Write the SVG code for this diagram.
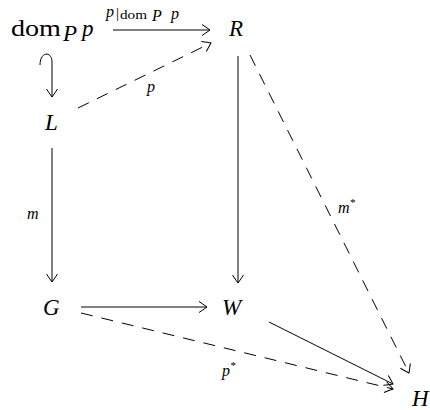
<svg xmlns="http://www.w3.org/2000/svg" width="430" height="410" viewBox="0 0 430 410">
<style>
.m{font-family:"Liberation Serif","DejaVu Serif",serif;font-style:italic;font-size:23px;fill:#000}
.r{font-family:"Liberation Serif","DejaVu Serif",serif;font-style:normal;fill:#000}
.l{font-family:"Liberation Serif","DejaVu Serif",serif;font-style:italic;font-size:16px;fill:#000}
.e{fill:none;stroke:#000;stroke-width:1}
.d{stroke-dasharray:12 9}
</style>
<defs>
<marker id="to" markerUnits="userSpaceOnUse" markerWidth="14" markerHeight="14" refX="0" refY="0" viewBox="-10 -7 14 14" orient="auto" overflow="visible">
<path d="M-8,-5.5 Q-2,-1.5 0,0 Q-2,1.5 -8,5.5" fill="none" stroke="#000" stroke-width="1"/>
</marker>
</defs>
<g id="edges">
<line class="e" x1="113" y1="30" x2="210" y2="30" marker-end="url(#to)"/>
<path class="e" d="M40,65 C40,51 52,51 52,62 L52,97" marker-end="url(#to)"/>
<line class="e d" x1="78" y1="108" x2="211" y2="43" marker-end="url(#to)"/>
<line class="e" x1="52" y1="148" x2="52" y2="282" marker-end="url(#to)"/>
<line class="e" x1="238" y1="56" x2="238" y2="283" marker-end="url(#to)"/>
<line class="e d" x1="250" y1="55" x2="409" y2="373" marker-end="url(#to)"/>
<line class="e" x1="81" y1="307" x2="207" y2="307" marker-end="url(#to)"/>
<line class="e" x1="269" y1="322" x2="393" y2="384" marker-end="url(#to)"/>
<line class="e d" x1="81" y1="313" x2="393" y2="389" marker-end="url(#to)"/>
<text class="l" x="106" y="17">p</text>
<text class="r" x="116" y="18" font-size="15">|</text>
<text class="r" x="120" y="19" font-size="13" textLength="27" lengthAdjust="spacingAndGlyphs">dom</text>
<text class="l" x="152" y="21" font-size="11">P</text>
<text class="l" x="171" y="19" font-size="12">p</text>
<text class="l" x="147" y="92">p</text>
<text class="l" x="27" y="219">m</text>
<text class="l" x="338" y="213">m<tspan font-size="11" dy="-7">*</tspan></text>
<text class="l" x="222" y="376">p<tspan font-size="11" dy="-7">*</tspan></text>
</g>
<g id="dom"><text class="r" x="11" y="36" font-size="24" textLength="50" lengthAdjust="spacingAndGlyphs">dom</text><text class="m" x="63" y="41" font-size="15">P</text><text class="m" x="82" y="36">p</text></g>
<g id="R"><text class="m" x="229" y="36">R</text></g>
<g id="L"><text class="m" x="45" y="130">L</text></g>
<g id="G"><text class="m" x="43" y="315">G</text></g>
<g id="W"><text class="m" x="222" y="315">W</text></g>
<g id="H"><text class="m" x="412" y="406">H</text></g>
</svg>
